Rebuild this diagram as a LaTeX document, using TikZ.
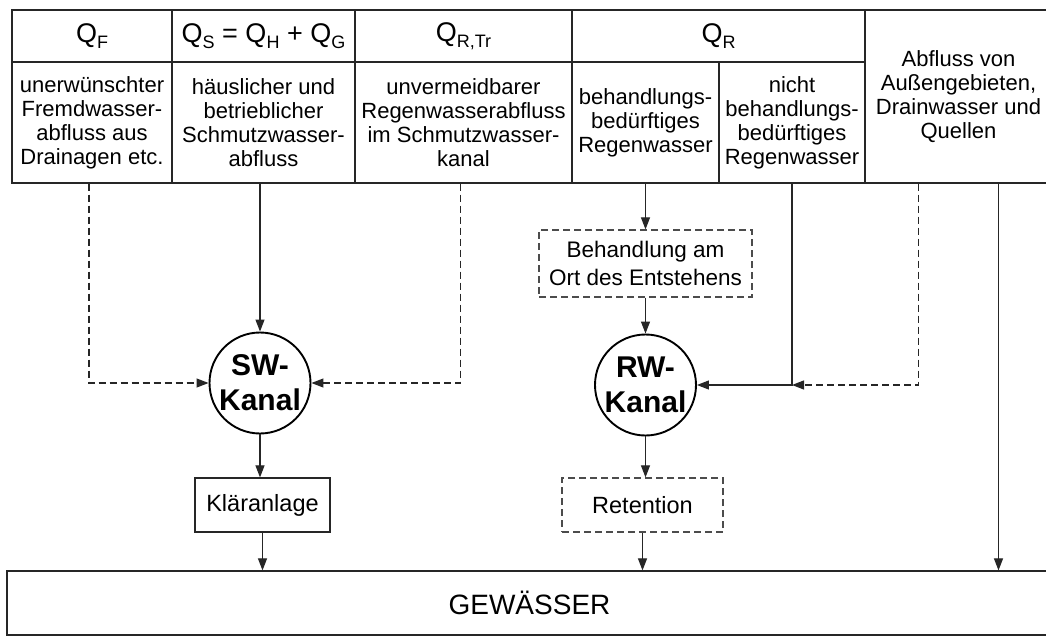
\documentclass[tikz,border=0pt]{standalone}
\usepackage{fontspec}
\setmainfont{Liberation Sans}
\usetikzlibrary{arrows.meta}
% index letters of the flow symbols
\newcommand{\qidx}[1]{\raisebox{-0.22em}{\fontsize{18}{18}\selectfont #1}}

\begin{document}
\begin{tikzpicture}[x=1pt,y=-1pt,
    cell/.style={draw=black!85,line width=1.2pt,inner sep=0pt,align=center,
      font=\fontsize{22}{24}\selectfont},
    headcell/.style={cell,font=\fontsize{27}{28}\selectfont},
    stepbox/.style={draw=black!85,line width=1.2pt,inner sep=0pt,align=center,
      font=\fontsize{23.5}{28}\selectfont},
    optbox/.style={stepbox,draw=black!70,dash pattern=on 7pt off 4pt},
    kanal/.style={circle,draw,line width=1.9pt,minimum size=101pt,inner sep=0pt,
      align=center,font=\fontsize{30}{35}\selectfont\bfseries},
    flow/.style={-{Triangle[length=12pt,width=9pt]},line width=1.1pt,draw=black!85},
    optflow/.style={flow,dash pattern=on 7pt off 4pt}]
\fill[white] (0,0) rectangle (1046,637);
\useasboundingbox (0,0) rectangle (1046,637);

% header row
\node[headcell,minimum width=160pt,minimum height=52pt] (hF) at (92,36) {Q\qidx{F}};
\node[headcell,minimum width=183pt,minimum height=52pt] (hS) at (263.5,36) {Q\qidx{S} = Q\qidx{H} + Q\qidx{G}};
\node[headcell,minimum width=217pt,minimum height=52pt] (hT) at (463.5,36) {Q\qidx{R,Tr}};
\node[headcell,minimum width=293pt,minimum height=52pt] (hR) at (718.5,36) {Q\qidx{R}};
\node[cell,minimum width=187pt,minimum height=173pt] (cAus) at (958.5,96.5) {Abfluss von\\Au\ss engebieten,\\Drainwasser und\\Quellen};

% description row
\node[cell,minimum width=160pt,minimum height=121pt] (bF) at (92,122.5) {unerwünschter\\Fremdwasser-\\abfluss aus\\Drainagen etc.};
\node[cell,minimum width=183pt,minimum height=121pt] (bS) at (263.5,122.5) {häuslicher und\\betrieblicher\\Schmutzwasser-\\abfluss};
\node[cell,minimum width=217pt,minimum height=121pt] (bT) at (463.5,122.5) {unvermeidbarer\\Regenwasserabfluss\\im Schmutzwasser-\\kanal};
\node[cell,minimum width=147pt,minimum height=121pt] (bR1) at (645.5,122.5) {behandlungs-\\bedürftiges\\Regenwasser};
\node[cell,minimum width=146pt,minimum height=121pt] (bR2) at (792,122.5) {nicht\\behandlungs-\\bedürftiges\\Regenwasser};

% channels and treatment
\node[kanal] (sw) at (260,383) {SW-\\Kanal};
\node[optbox,minimum width=213pt,minimum height=67pt,font=\fontsize{22.5}{28}\selectfont] (beh) at (645.5,263.5) {Behandlung am\\Ort des Entstehens};
\node[kanal] (rw) at (645.5,385) {RW-\\Kanal};
\node[stepbox,minimum width=135pt,minimum height=54pt] (klar) at (262.5,505) {Kläranlage};
\node[optbox,minimum width=161pt,minimum height=54pt] (ret) at (642.5,505) {Retention};
\node[stepbox,minimum width=1045pt,minimum height=64pt,font=\fontsize{28}{30}\selectfont] (gew) at (529.5,603) {GEWÄSSER};

\coordinate (jR) at (bR2.south |- rw.east);

% flows
\draw[optflow] ([xshift=-3pt]bF.south) |- (sw.west);
\draw[flow] (bS.south -| sw.north) -- (sw.north);
\draw[optflow] ([xshift=-3pt]bT.south) |- (sw.east);
\draw[flow] (sw.south) -- (sw.south |- klar.north);
\draw[flow] (klar.south) -- (klar.south |- gew.north);

\draw[flow] (bR1.south) -- (beh.north);
\draw[flow] (beh.south) -- (rw.north);
\draw[flow] (bR2.south) |- (rw.east);
\draw[optflow] ([xshift=-40pt]cAus.south) |- (jR);
\draw[flow] (rw.south) -- (rw.south |- ret.north);
\draw[flow] (ret.south) -- (ret.south |- gew.north);
\draw[flow] ([xshift=40pt]cAus.south) -- ([xshift=40pt]cAus.south |- gew.north);
\end{tikzpicture}
\end{document}
